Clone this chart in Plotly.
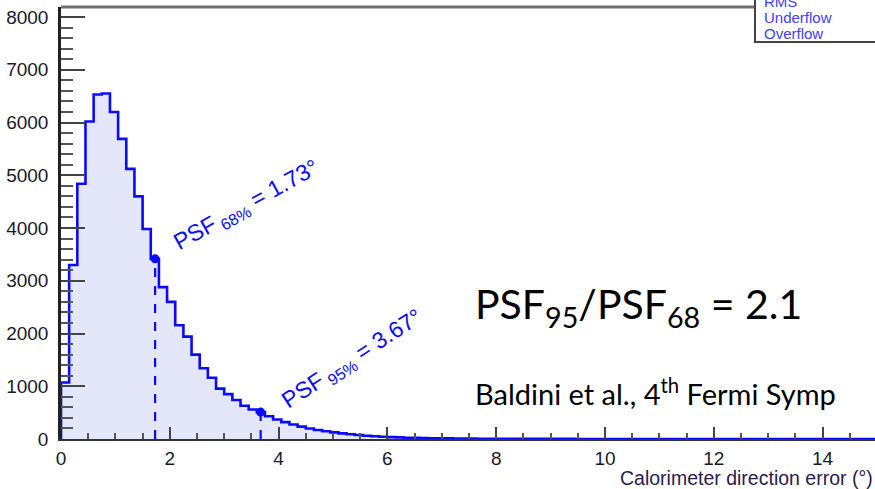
import numpy as np
import plotly.graph_objects as go

# Histogram of calorimeter direction error, 0.15 deg bins starting at 0
BIN_WIDTH = 0.15
counts = [
    1070, 3300, 4840, 6020, 6530, 6550, 6200, 5690, 5120, 4600,
    3980, 3415, 2880, 2600, 2155, 1940, 1600, 1340, 1160, 955,
    850, 740, 630, 560, 510, 430, 370, 320, 275, 235,
    200, 172, 148, 126, 107, 90, 75, 62, 52, 43,
    36, 30, 25, 21, 18, 15, 13, 11, 9, 8,
    7, 6, 5, 5, 4, 4, 3, 3, 3, 2,
    2, 2, 2, 1, 1, 1, 1, 1, 1, 1,
    1, 1, 1, 0, 0, 0, 0, 0, 0, 0,
    0, 0, 0, 0, 0, 0, 0, 0, 0, 0,
    0, 0, 0, 0, 0, 0, 0, 0, 0, 0,
]
psf_levels = ["68%", "95%"]
psf_values = [1.73, 3.67]
ratio_text = "2.1"
x_ticks = [0, 2, 4, 6, 8, 10, 12, 14]
y_ticks = [0, 1000, 2000, 3000, 4000, 5000, 6000, 7000, 8000]

edges = np.arange(len(counts) + 1) * BIN_WIDTH
step_x = np.concatenate([[0.0], edges])
step_y = np.concatenate([[0.0], counts, [counts[-1]]])

BLUE = "#0a0aff"
FILL = "rgb(228,230,250)"

fig = go.Figure()
fig.add_trace(go.Scatter(
    x=step_x, y=step_y, mode="lines", line=dict(color=BLUE, width=2.6, shape="hv"),
    fill="tozeroy", fillcolor=FILL, hoverinfo="skip", showlegend=False,
))

# PSF containment markers: dashed drop line and dot on the histogram
for val in psf_values:
    h = counts[int(val // BIN_WIDTH)]
    fig.add_trace(go.Scatter(
        x=[val, val], y=[0, h], mode="lines",
        line=dict(color=BLUE, width=2.2, dash="dash"), showlegend=False, hoverinfo="skip",
    ))
    fig.add_trace(go.Scatter(
        x=[val], y=[h], mode="markers", marker=dict(color=BLUE, size=9),
        showlegend=False, hoverinfo="skip", cliponaxis=False,
    ))

W, H = 875, 489
L, R, T, B = 61, 0, 7, 50
px_per_x = 54.4
x_max = (W - L - R) / px_per_x
px_per_y = 52.75 / 1000
y_max = (H - T - B) / px_per_y

def paper_x(px):
    return (px - L) / (W - L - R)

def paper_y(py):
    return (H - B - py) / (H - T - B)

label_font = dict(family="Liberation Sans, Arial, sans-serif", size=23, color=BLUE)
fig.add_annotation(
    x=3.42, y=4420, xref="x", yref="y", showarrow=False, textangle=-29,
    xanchor="center", yanchor="middle",
    text=f"PSF<sub> {psf_levels[0]}</sub> = {psf_values[0]:.2f}°", font=label_font,
)
fig.add_annotation(
    x=5.36, y=1500, xref="x", yref="y", showarrow=False, textangle=-33,
    xanchor="center", yanchor="middle",
    text=f"PSF<sub> {psf_levels[1]}</sub> = {psf_values[1]:.2f}°", font=label_font,
)

fig.add_annotation(
    x=paper_x(638), y=paper_y(306), xref="paper", yref="paper", showarrow=False,
    xanchor="center", yanchor="middle",
    text=f"PSF<sub>95</sub>/PSF<sub>68</sub> = {ratio_text}",
    font=dict(family="Lato, Open Sans, sans-serif", size=41, color="black"),
)
fig.add_annotation(
    x=paper_x(655), y=paper_y(392), xref="paper", yref="paper", showarrow=False,
    xanchor="center", yanchor="middle",
    text="Baldini et al., 4<sup>th</sup> Fermi Symp",
    font=dict(family="Lato, Open Sans, sans-serif", size=29, color="black"),
)

# axis title, right-aligned at the end of the x axis
fig.add_annotation(
    x=1, y=paper_y(478), xref="paper", yref="paper", showarrow=False,
    xanchor="right", yanchor="middle",
    text="Calorimeter direction error (°)",
    font=dict(family="Liberation Sans, Arial, sans-serif", size=19.5, color="#2a2050"),
)

# top frame line and the statistics box in the upper right corner
fig.add_shape(type="line", xref="paper", yref="paper", x0=0, x1=paper_x(755),
              y0=1, y1=1, line=dict(color="#707070", width=3))
fig.add_shape(type="rect", xref="paper", yref="paper", x0=paper_x(755), x1=paper_x(880),
              y0=paper_y(42), y1=paper_y(-10), fillcolor="white",
              line=dict(color="#444", width=2))
stats_font = dict(family="Liberation Sans, Arial, sans-serif", size=15, color="#4040ff")
for text, py in [("RMS", 1), ("Underflow", 18), ("Overflow", 33)]:
    fig.add_annotation(x=paper_x(762), y=paper_y(py), xref="paper", yref="paper",
                       showarrow=False, xanchor="left", yanchor="middle",
                       text=text, font=stats_font)

tick_font = dict(family="Liberation Sans, Arial, sans-serif", size=19, color="#1a1a2a")
fig.update_xaxes(
    range=[0, x_max], tickvals=x_ticks, ticktext=[str(v) for v in x_ticks],
    ticks="inside", ticklen=12, tickwidth=2, tickcolor="#444",
    minor=dict(dtick=0.5, ticks="inside", ticklen=6, tickwidth=1.5, tickcolor="#555"),
    showline=True, linecolor="#333", linewidth=2, showgrid=False, zeroline=False,
    tickfont=tick_font, ticklabelstandoff=1,
)
fig.update_yaxes(
    range=[0, y_max], tickvals=y_ticks, ticktext=[str(v) for v in y_ticks],
    ticks="inside", ticklen=24, tickwidth=2, tickcolor="#444",
    minor=dict(dtick=200, ticks="inside", ticklen=12, tickwidth=1.5, tickcolor="#555"),
    showline=True, linecolor="#222", linewidth=2.5, showgrid=False, zeroline=False,
    tickfont=tick_font, ticklabelstandoff=6,
)
fig.update_layout(
    width=W, height=H, margin=dict(l=L, r=R, t=T, b=B),
    paper_bgcolor="white", plot_bgcolor="white", showlegend=False,
)
fig.write_html("out.html")
